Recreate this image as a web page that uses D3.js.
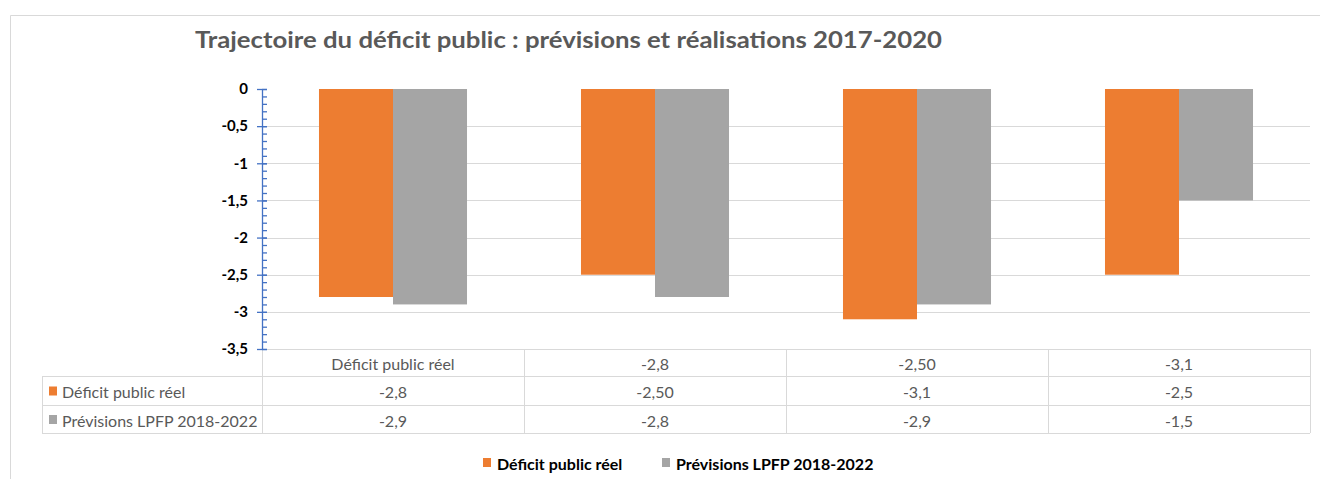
<!DOCTYPE html>
<html><head><meta charset="utf-8">
<script src="https://cdn.jsdelivr.net/npm/d3@7"></script>
<style>
html,body{margin:0;padding:0;background:#fff;}
svg{display:block;}
</style></head>
<body>
<svg id="c" width="1320" height="479"></svg>
<script>
const title = "Trajectoire du déficit public : prévisions et réalisations 2017-2020";
const categories = ["Déficit public réel", "-2,8", "-2,50", "-3,1"];
const seriesNames = ["Déficit public réel", "Prévisions LPFP 2018-2022"];
const deficitReel = [-2.8, -2.5, -3.1, -2.5];
const previsions = [-2.9, -2.8, -2.9, -1.5];
const deficitReelLabels = ["-2,8", "-2,50", "-3,1", "-2,5"];
const previsionsLabels = ["-2,9", "-2,8", "-2,9", "-1,5"];
const yTicks = [0, -0.5, -1, -1.5, -2, -2.5, -3, -3.5];
const colors = ["#ED7D31", "#A5A5A5"];

const svg = d3.select("#c");
const FONT = "Lato, 'Open Sans', sans-serif";
const plot = {left: 262, right: 1310, top: 89, bottom: 349};
const tableLeft = 42, rowH = [349, 376, 405, 433];

// outer frame
svg.append("path").attr("d", "M1320,15.5 H10.5 V479").attr("fill", "none")
  .attr("stroke", "#d9d9d9").attr("stroke-width", 1);

// title
svg.append("text").attr("x", 195).attr("y", 48).text(title)
  .attr("font-family", FONT).attr("font-weight", "bold").attr("font-size", 22)
  .attr("fill", "#595959").attr("textLength", 747).attr("lengthAdjust", "spacingAndGlyphs");

const y = d3.scaleLinear().domain([0, -3.5]).range([plot.top, plot.bottom]);
const x0 = d3.scaleBand().domain(categories).range([plot.left, plot.right])
  .paddingInner(0.435).paddingOuter(0.2175);
const x1 = d3.scaleBand().domain(seriesNames).range([0, x0.bandwidth()]);

// gridlines
svg.append("g").selectAll("line").data(yTicks.filter(d => d < 0 && d > -3.5)).join("line")
  .attr("x1", plot.left).attr("x2", plot.right)
  .attr("y1", d => Math.round(y(d)) + 0.5).attr("y2", d => Math.round(y(d)) + 0.5)
  .attr("stroke", "#d9d9d9").attr("stroke-width", 1.2);

// bars
const data = categories.map((c, i) => ({c, vals: [deficitReel[i], previsions[i]]}));
const groups = svg.append("g").selectAll("g").data(data).join("g")
  .attr("transform", d => `translate(${x0(d.c)},0)`);
groups.selectAll("rect").data(d => d.vals.map((v, j) => ({s: seriesNames[j], v, j}))).join("rect")
  .attr("x", d => x1(d.s)).attr("width", x1.bandwidth())
  .attr("y", y(0)).attr("height", d => y(d.v) - y(0))
  .attr("fill", d => colors[d.j]);

// table
const tg = svg.append("g");
const tableStroke = "#d9d9d9";
tg.append("line").attr("x1", plot.left).attr("x2", plot.right).attr("y1", rowH[0] + 0.5).attr("y2", rowH[0] + 0.5).attr("stroke", tableStroke);
[1, 2, 3].forEach(k => tg.append("line").attr("x1", tableLeft).attr("x2", plot.right)
  .attr("y1", rowH[k] + 0.5).attr("y2", rowH[k] + 0.5).attr("stroke", tableStroke));
tg.append("line").attr("x1", tableLeft + 0.5).attr("x2", tableLeft + 0.5).attr("y1", rowH[1]).attr("y2", rowH[3]).attr("stroke", tableStroke);
const colEdges = [plot.left].concat(categories.map(c => x0(c) + x0.bandwidth() + x0.step() * x0.paddingInner() / 2));
colEdges.forEach(xe => tg.append("line").attr("x1", Math.round(xe) + 0.5).attr("x2", Math.round(xe) + 0.5)
  .attr("y1", rowH[0]).attr("y2", rowH[3]).attr("stroke", tableStroke));

const cellText = (xc, yc, t) => tg.append("text").attr("x", xc).attr("y", yc).text(t)
  .attr("text-anchor", "middle").attr("dominant-baseline", "central")
  .attr("font-family", FONT).attr("font-size", 16).attr("fill", "#595959");
categories.forEach((c, i) => {
  const cx = x0(c) + x0.bandwidth() / 2;
  cellText(cx, (rowH[0] + rowH[1]) / 2 + 1, c);
  cellText(cx, (rowH[1] + rowH[2]) / 2 + 1, deficitReelLabels[i]);
  cellText(cx, (rowH[2] + rowH[3]) / 2 + 1, previsionsLabels[i]);
});
seriesNames.forEach((s, j) => {
  const yc = (rowH[j + 1] + rowH[j + 2]) / 2;
  tg.append("rect").attr("x", 49).attr("y", yc - 4).attr("width", 8).attr("height", 9).attr("fill", colors[j]);
  tg.append("text").attr("x", 62).attr("y", yc + 1).text(s).attr("dominant-baseline", "central")
    .attr("font-family", FONT).attr("font-size", 16).attr("fill", "#595959");
});

// y axis
const axisColor = "#4472C4";
const minorTicks = d3.range(0, 36).map(k => -k / 10);
const ag = svg.append("g").attr("transform", `translate(${plot.left},0)`);
ag.call(d3.axisLeft(y).tickValues(minorTicks).tickSizeInner(-5).tickSizeOuter(0).tickFormat(""))
  .call(g => g.selectAll("line,path").attr("stroke", axisColor).attr("stroke-width", 1.3));
const mg = svg.append("g").attr("transform", `translate(${plot.left},0)`);
mg.call(d3.axisLeft(y).tickValues(yTicks).tickSize(5).tickPadding(9)
  .tickFormat(d => String(d === 0 ? 0 : d).replace(".", ",")))
  .call(g => g.select(".domain").remove())
  .call(g => g.selectAll("line").attr("x2", -5).attr("x1", 5).attr("stroke", axisColor).attr("stroke-width", 1.3))
  .call(g => g.selectAll("text").attr("font-family", FONT).attr("font-weight", "bold")
    .attr("font-size", 15).attr("fill", "#000"));

// legend
const legendItems = [{s: seriesNames[0], x: 483, c: colors[0]}, {s: seriesNames[1], x: 662, c: colors[1]}];
const lg = svg.append("g");
legendItems.forEach(d => {
  lg.append("rect").attr("x", d.x).attr("y", 458).attr("width", 8).attr("height", 9).attr("fill", d.c);
  lg.append("text").attr("x", d.x + 14).attr("y", 463).text(d.s).attr("dominant-baseline", "central")
    .attr("font-family", FONT).attr("font-weight", "bold").attr("font-size", 16).attr("fill", "#000");
});
</script>
</body></html>
